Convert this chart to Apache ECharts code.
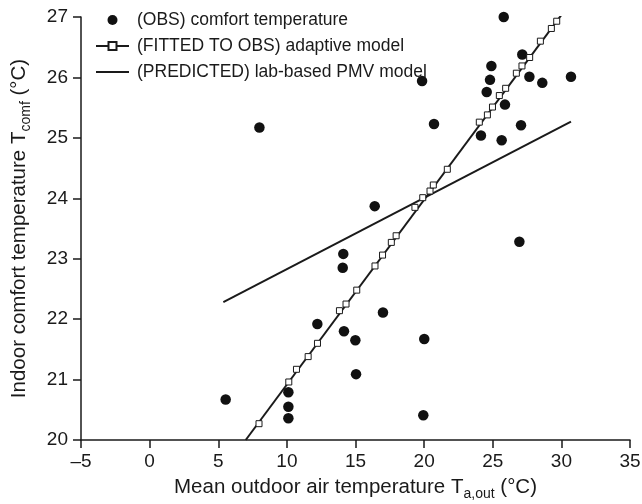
<!DOCTYPE html>
<html>
<head>
<meta charset="utf-8">
<script src="https://cdn.jsdelivr.net/npm/echarts@6/dist/echarts.min.js"></script>
<style>
  html, body { margin: 0; padding: 0; background: #fff; }
  #chart { width: 642px; height: 504px; }
</style>
</head>
<body>
<div id="chart"></div>
<script>
// observed comfort temperatures
const obsX = [25.8, 27.15, 24.9, 24.8, 24.56, 27.67, 28.61, 30.7, 25.89, 27.06, 24.14, 25.65, 20.72, 26.94, 8.0, 16.4, 14.11, 14.07, 19.85, 12.22, 14.16, 14.99, 17.0, 20.01, 15.04, 5.54, 10.11, 10.11, 10.11, 19.94];
const obsY = [27.0, 26.38, 26.19, 25.96, 25.76, 26.01, 25.91, 26.01, 25.55, 25.21, 25.04, 24.96, 25.23, 23.28, 25.17, 23.87, 23.08, 22.85, 25.94, 21.92, 21.8, 21.65, 22.11, 21.67, 21.09, 20.67, 20.79, 20.55, 20.36, 20.41];

// adaptive model (fitted) - line ends and square markers
const fitLineX = [7.0, 30.02];
const fitLineY = [20.0, 27.04];
const fitX = [7.97, 10.14, 10.7, 11.55, 12.23, 13.83, 14.31, 15.09, 16.42, 16.97, 17.61, 17.96, 19.33, 19.9, 20.43, 20.67, 21.69, 24.02, 24.61, 24.98, 25.48, 25.94, 26.72, 27.13, 27.69, 28.47, 29.27, 29.66];
const fitY = [20.27, 20.96, 21.17, 21.38, 21.6, 22.14, 22.25, 22.48, 22.88, 23.06, 23.27, 23.38, 23.85, 24.01, 24.12, 24.22, 24.48, 25.26, 25.38, 25.51, 25.7, 25.82, 26.07, 26.19, 26.33, 26.6, 26.81, 26.93];

// PMV model line
const pmvX = [5.37, 30.7];
const pmvY = [22.28, 25.27];

const seriesNames = ["(OBS) comfort temperature", "(FITTED TO OBS) adaptive model", "(PREDICTED) lab-based PMV model"];

const font = "'Liberation Sans', Arial, Helvetica, sans-serif";
const ink = "#1a1a1a";

const zip = (xs, ys) => xs.map((x, i) => [x, ys[i]]);

const chart = echarts.init(document.getElementById("chart"));

const titleStyle = {
  fontSize: 20.5,
  color: ink,
  fontFamily: font,
  rich: {
    sub: { fontSize: 14, color: ink, fontFamily: font, padding: [13, 0, 0, 0] },
  },
};

const option = {
  animation: false,
  backgroundColor: "#fff",
  textStyle: { fontFamily: font },
  grid: {
    left: 81,
    right: 12,
    top: 17,
    bottom: 64,
    containLabel: false,
    outerBoundsMode: "none",
  },
  legend: {
    data: [
      { name: seriesNames[0] },
      { name: seriesNames[1] },
      { name: seriesNames[2], itemStyle: { opacity: 0 } },
    ],
    orient: "vertical",
    left: 90,
    top: 6,
    itemWidth: 33,
    itemHeight: 10,
    itemGap: 8,
    lineStyle: { width: 2 },
    textStyle: { fontSize: 17.5, color: ink, fontFamily: font, padding: [0, 0, 0, 3] },
  },
  xAxis: {
    type: "value",
    min: -5,
    max: 35,
    interval: 5,
    name: "Mean outdoor air temperature T{sub|a,out} (°C)",
    nameLocation: "middle",
    nameGap: 34,
    nameTextStyle: titleStyle,
    axisLine: { onZero: false, lineStyle: { color: ink, width: 1.5 } },
    axisTick: { length: 8, lineStyle: { color: ink, width: 1.5 } },
    axisLabel: {
      fontSize: 19,
      color: ink,
      margin: 12,
      formatter: (v) => (v < 0 ? "\u2013" + Math.abs(v) : String(v)),
    },
    splitLine: { show: false },
  },
  yAxis: {
    type: "value",
    min: 20,
    max: 27,
    interval: 1,
    name: "Indoor comfort temperature T{sub|comf} (°C)",
    nameLocation: "middle",
    nameGap: 48,
    nameTextStyle: titleStyle,
    axisLine: { show: true, onZero: false, lineStyle: { color: ink, width: 1.5 } },
    axisTick: { show: true, length: 8, lineStyle: { color: ink, width: 1.5 } },
    axisLabel: { fontSize: 19, color: ink, margin: 13 },
    splitLine: { show: false },
  },
  series: [
    {
      name: seriesNames[0],
      type: "scatter",
      data: zip(obsX, obsY),
      symbol: "circle",
      symbolSize: 10.5,
      itemStyle: { color: "#111", opacity: 1 },
      z: 3,
    },
    {
      name: seriesNames[1],
      type: "line",
      data: zip(fitLineX, fitLineY),
      symbol: "rect",
      symbolSize: 6,
      showSymbol: false,
      lineStyle: { color: ink, width: 2 },
      itemStyle: { color: "#fff", borderColor: ink, borderWidth: 1 },
      z: 2,
    },
    {
      name: "fitMarkers",
      type: "scatter",
      data: zip(fitX, fitY),
      symbol: "rect",
      symbolSize: 6,
      itemStyle: { color: "#fff", borderColor: ink, borderWidth: 1, opacity: 1 },
      z: 4,
    },
    {
      name: seriesNames[2],
      type: "line",
      data: zip(pmvX, pmvY),
      symbol: "none",
      lineStyle: { color: ink, width: 2 },
      itemStyle: { color: ink },
      z: 2,
    },
  ],
};

chart.setOption(option);
</script>
</body>
</html>
